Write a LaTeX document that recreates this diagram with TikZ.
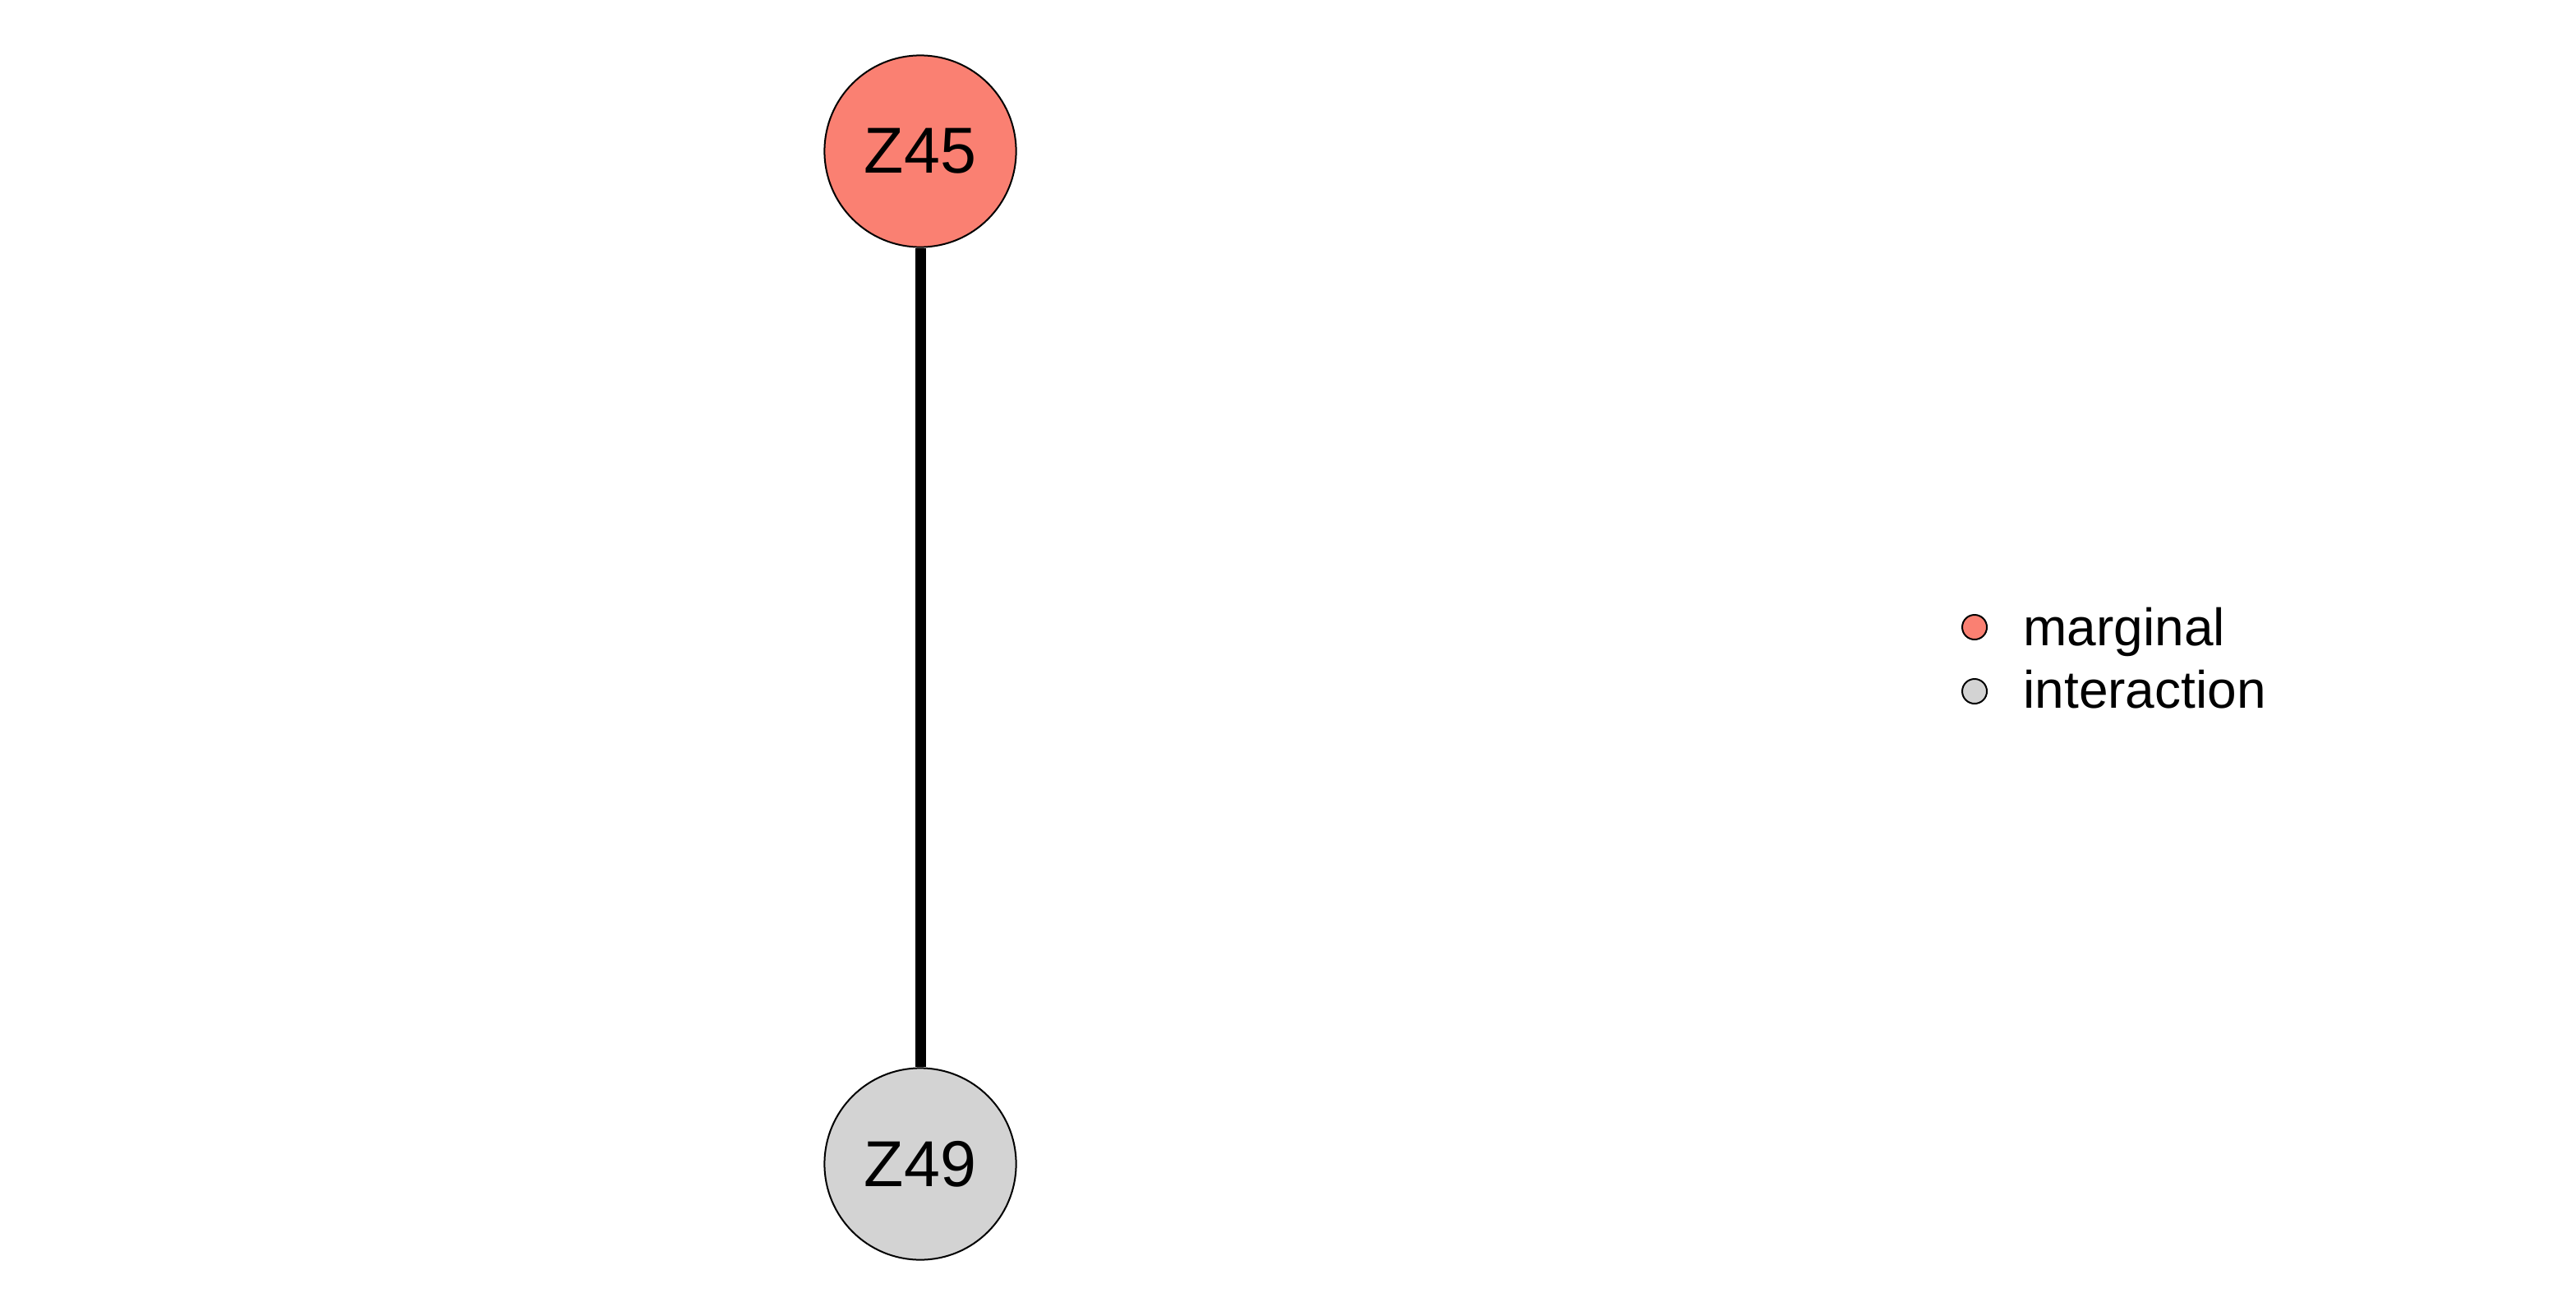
\documentclass[tikz,border=0pt]{standalone}
\usepackage{fontspec}
\setmainfont{Liberation Sans}
\definecolor{salmonc}{HTML}{FA8072}
\definecolor{lgray}{HTML}{D3D3D3}
\begin{document}
\begin{tikzpicture}[x=1pt,y=-1pt,
  vnode/.style={circle,draw=black,line width=1pt,minimum size=116.6pt,inner sep=0pt,font=\fontsize{39.5}{40}\selectfont},
  legdot/.style={circle,draw=black,line width=1pt,minimum size=15pt,inner sep=0pt},
  legtxt/.style={anchor=base west,inner sep=0pt,font=\fontsize{32}{32}\selectfont},
  edgeln/.style={line width=6.5pt,black}]
\useasboundingbox (0,0) rectangle (1567.5,800);
\node[vnode,fill=salmonc] (z45) at (560,92) {Z45};
\node[vnode,fill=lgray] (z49) at (560,708) {Z49};
\draw[edgeln] (z45) -- (z49);
\node[legdot,fill=salmonc] (d1) at (1201.5,381.5) {};
\node[legdot,fill=lgray] (d2) at (1201.5,420.5) {};
\node[legtxt] (t1) at (1231,392.5) {marginal};
\node[legtxt] (t2) at (1231,430.8) {interaction};
\end{tikzpicture}
\end{document}
